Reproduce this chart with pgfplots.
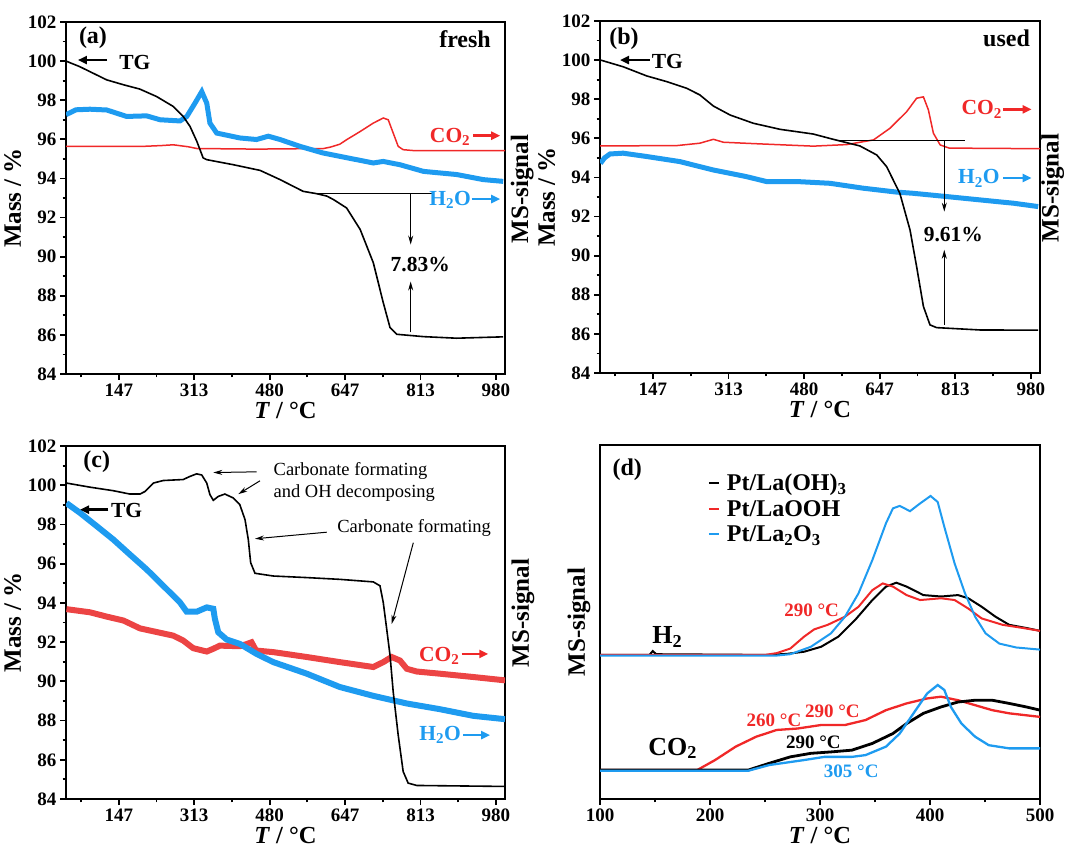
\documentclass[border=0pt]{standalone}
\usepackage{pgfplots}
\pgfplotsset{compat=1.18}
\usepackage{fontspec}
\setmainfont{Liberation Serif}
\usetikzlibrary{arrows.meta}
\definecolor{myblue}{RGB}{30,155,240}
\definecolor{myred}{RGB}{240,40,40}
\definecolor{myred2}{RGB}{236,68,68}

\pgfplotsset{
  base/.style={
    scale only axis, anchor=south west,
    tick pos=left, tick align=outside,
    major tick length=6pt, minor tick length=3.5pt,
    every tick/.style={black, line width=1.8pt},
    axis line style={line width=2.2pt},
    tick label style={font=\bfseries\fontsize{19}{19}\selectfont},
    /pgf/number format/assume math mode=true,
    label style={font=\bfseries\fontsize{25}{25}\selectfont},
    xlabel={\textit{T} / °C},
    xlabel style={yshift=1.5pt, font=\bfseries\fontsize{24.5}{24.5}\selectfont},
    clip mode=individual,
  },
  tg/.style={
    base,
    xmin=30, xmax=1000, ymin=84, ymax=102,
    xtick={146.67,313.33,480,646.67,813.33,980},
    xticklabels={147,313,480,647,813,980},
    minor xtick={63.33,230,396.67,563.33,730,896.67},
    ytick={84,86,88,90,92,94,96,98,100,102},
    minor ytick={85,87,89,91,93,95,97,99,101},
    ylabel={Mass / \%},
  },
}
\tikzset{
  big/.style={font=\bfseries\fontsize{24}{24}\selectfont},
  mid/.style={font=\bfseries\fontsize{21.5}{21.5}\selectfont},
  sml/.style={font=\bfseries\fontsize{19}{19}\selectfont},
  fat/.style={line width=2.6pt, -{Triangle[length=9pt,width=8pt]}},
  thin/.style={line width=1pt, -{Stealth[length=9pt,width=5pt]}},
}

\begin{document}
\begin{tikzpicture}
\useasboundingbox (0,0) rectangle (1065pt,848pt);

% ---------------- (a) ----------------
\begin{axis}[tg, at={(66pt,474pt)}, width=439pt, height=352pt]
\addplot[myred, line width=1.5pt] coordinates {
(30,95.64) (200,95.64) (240,95.68) (267,95.72) (300,95.62) (319,95.53) (450,95.5) (599,95.53)
(614,95.6) (635,95.75) (650,95.98) (680,96.4) (709,96.83) (731,97.09) (742,97.0) (753,96.32)
(764,95.64) (775,95.47) (800,95.42) (1000,95.42)};
\addplot[myblue, line width=5pt] coordinates {
(30,97.26) (52,97.51) (83,97.54) (120,97.5) (164,97.17) (208,97.2) (238,97.0) (282,96.94)
(297,97.17) (315,97.85) (330,98.44) (341,97.85) (348,96.83) (363,96.32) (414,96.07) (451,95.99)
(477,96.16) (503,95.99) (547,95.64) (598,95.3) (672,94.96) (709,94.79) (731,94.87) (768,94.7)
(820,94.36) (893,94.2) (952,93.94) (996,93.85)};
\addplot[black, line width=1.6pt] coordinates {
(30,100.0) (60,99.72) (120,99.04) (157,98.79) (193,98.57) (230,98.19) (267,97.68) (289,97.17)
(304,96.66) (319,95.9) (333,95.05) (341,94.96) (400,94.70) (459,94.41) (503,93.94) (554,93.34)
(584,93.22) (606,93.1) (621,92.92) (650,92.49) (680,91.39) (709,89.69) (731,87.65) (746,86.37)
(761,86.03) (820,85.91) (893,85.83) (996,85.9)};
\draw[line width=1pt] (axis cs:584.6,93.22) -- (axis cs:838.7,93.22);
\draw[thin] (axis cs:791.6,93.22) -- (axis cs:791.6,90.62);
\draw[thin] (axis cs:791.6,86.13) -- (axis cs:791.6,88.73);
\node[mid] at (axis cs:812.8,89.6) {7.83\%};
\node[big] at (rel axis cs:0.0615,0.955) {(a)};
\node[big] at (rel axis cs:0.909,0.952) {fresh};
\draw[fat] (rel axis cs:0.0934,0.892) -- (rel axis cs:0.0273,0.892);
\node[mid] at (rel axis cs:0.157,0.886) {TG};
\node[mid, myred] at (rel axis cs:0.875,0.673) {CO\textsubscript{2}};
\draw[fat, myred] (rel axis cs:0.927,0.677) -- (rel axis cs:0.989,0.677);
\node[mid, myblue] at (rel axis cs:0.875,0.494) {H\textsubscript{2}O};
\draw[fat, myblue] (rel axis cs:0.924,0.497) -- (rel axis cs:0.989,0.497);
\node[rotate=90, font=\bfseries\fontsize{25}{25}\selectfont] at (rel axis cs:1.039,0.526) {MS-signal};
\end{axis}

% ---------------- (b) ----------------
\begin{axis}[tg, at={(600pt,475pt)}, width=440pt, height=352pt]
\addplot[myred, line width=1.5pt] coordinates {
(30,95.61) (200,95.63) (250,95.75) (280,95.95) (302,95.8) (368,95.73) (500,95.6) (574,95.68)
(633,95.92) (669,96.51) (706,97.36) (728,98.05) (743,98.12) (754,97.45) (765,96.26) (780,95.66)
(800,95.5) (1000,95.47)};
\addplot[myblue, line width=5pt] coordinates {
(31,94.72) (40,95.0) (52,95.2) (81,95.24) (133,95.07) (206,94.81) (280,94.38) (353,94.04)
(397,93.79) (464,93.79) (537,93.7) (610,93.45) (684,93.25) (720,93.19) (795,93.02) (868,92.85)
(942,92.68) (996,92.51)};
\addplot[black, line width=1.6pt] coordinates {
(31.5,100.0) (81,99.66) (133,99.19) (177,98.9) (221,98.56) (250,98.22) (280,97.65) (317,97.19)
(368,96.77) (427,96.46) (500,96.22) (544,95.95) (603,95.61) (640,95.15) (662,94.55) (680,93.7)
(691,93.19) (713.5,91.31) (728,89.44) (743,87.4) (757.5,86.46) (772,86.32) (868,86.2) (996,86.19)};
\draw[line width=1pt] (axis cs:559,95.91) -- (axis cs:834.7,95.91);
\draw[thin] (axis cs:789,95.85) -- (axis cs:789,92.25);
\draw[thin] (axis cs:789,86.46) -- (axis cs:789,90.3);
\node[mid] at (axis cs:809,91.06) {9.61\%};
\node[big] at (rel axis cs:0.0545,0.951) {(b)};
\node[big] at (rel axis cs:0.924,0.952) {used};
\draw[fat] (rel axis cs:0.1136,0.889) -- (rel axis cs:0.0455,0.889);
\node[mid] at (rel axis cs:0.153,0.884) {TG};
\node[mid, myred] at (rel axis cs:0.8675,0.749) {CO\textsubscript{2}};
\draw[fat, myred] (rel axis cs:0.917,0.749) -- (rel axis cs:0.981,0.749);
\node[mid, myblue] at (rel axis cs:0.861,0.553) {H\textsubscript{2}O};
\draw[fat, myblue] (rel axis cs:0.917,0.554) -- (rel axis cs:0.981,0.554);
\node[rotate=90, font=\bfseries\fontsize{25}{25}\selectfont] at (rel axis cs:1.029,0.526) {MS-signal};
\end{axis}

% ---------------- (c) ----------------
\begin{axis}[tg, at={(66pt,49pt)}, width=439pt, height=353pt]
\addplot[myred2, line width=6pt] coordinates {
(31,93.68) (83,93.52) (120,93.3) (157,93.1) (193.5,92.7) (267,92.33) (289,92.08) (311,91.69)
(341,91.52) (355.5,91.66) (370,91.82) (414,91.79) (429,91.9) (440,91.99) (450,91.57) (488,91.49)
(562,91.24) (635,90.98) (709,90.73) (731,90.98) (749.6,91.24) (768,91.06) (783,90.64) (805,90.5)
(856,90.39) (930,90.22) (1000,90.05)};
\addplot[myblue, line width=6pt] coordinates {
(31,99.09) (61,98.59) (98,97.91) (134.6,97.23) (171,96.47) (208,95.71) (245,94.87) (282,94.02)
(296.6,93.55) (318.7,93.55) (341,93.77) (355.5,93.7) (359,93.18) (366.5,92.5) (385,92.13)
(414,91.91) (451,91.4) (488,90.98) (562,90.39) (635,89.71) (709,89.26) (783,88.87) (856,88.58)
(930,88.24) (1000,88.07)};
\addplot[black, line width=1.6pt] coordinates {
(31,100.11) (83,99.9) (134.6,99.72) (171,99.55) (193.5,99.55) (204.5,99.68) (223,100.11)
(245,100.24) (289,100.29) (304,100.45) (318.7,100.58) (330,100.52) (341,100.11) (348,99.52)
(355.5,99.23) (366.5,99.43) (381,99.55) (399.6,99.35) (414,99.01) (425.5,98.25) (432.8,97.23)
(438,96.05) (447.6,95.51) (488,95.37) (562,95.29) (635,95.2) (709,95.07) (723.8,94.87)
(731,94.02) (738.6,92.67) (746,91.32) (753,89.46) (764,87.26) (775,85.4) (786,84.81)
(805,84.69) (1000,84.64)};
\node[big] at (rel axis cs:0.07,0.956) {(c)};
\draw[fat] (rel axis cs:0.0964,0.8197) -- (rel axis cs:0.0319,0.8197);
\node[mid] at (rel axis cs:0.138,0.817) {TG};
\node[anchor=west, font=\fontsize{18.5}{18.5}\selectfont] at (rel axis cs:0.465,0.928) {Carbonate formating};
\node[anchor=west, font=\fontsize{18.5}{18.5}\selectfont] at (rel axis cs:0.465,0.867) {and OH decomposing};
\node[anchor=west, font=\fontsize{18.5}{18.5}\selectfont] at (rel axis cs:0.610,0.768) {Carbonate formating};
\draw[thin] (rel axis cs:0.4344,0.9268) -- (rel axis cs:0.3355,0.9248);
\draw[thin] (rel axis cs:0.4419,0.9014) -- (rel axis cs:0.3925,0.8637);
\draw[thin] (rel axis cs:0.594,0.7558) -- (rel axis cs:0.4305,0.7372);
\draw[thin] (rel axis cs:0.7911,0.7259) -- (rel axis cs:0.7419,0.4958);
\node[mid, myred] at (rel axis cs:0.85,0.4065) {CO\textsubscript{2}};
\draw[fat, myred] (rel axis cs:0.9013,0.411) -- (rel axis cs:0.962,0.411);
\node[mid, myblue] at (rel axis cs:0.852,0.181) {H\textsubscript{2}O};
\draw[fat, myblue] (rel axis cs:0.905,0.181) -- (rel axis cs:0.966,0.181);
\node[rotate=90, font=\bfseries\fontsize{25}{25}\selectfont] at (rel axis cs:1.041,0.527) {MS-signal};
\end{axis}

% ---------------- (d) ----------------
\begin{axis}[base, at={(600pt,49pt)}, width=440pt, height=354pt,
  xmin=100, xmax=500, ymin=0, ymax=100,
  xtick={100,200,300,400,500}, minor xtick={150,250,350,450},
  ytick=\empty, ylabel={MS-signal},
  legend cell align=left,
  legend image code/.code={\draw[#1, line width=2pt] (0pt,0pt) -- (10pt,0pt);},
  legend style={at={(rel axis cs:0.238,0.93)}, anchor=north west, draw=none, fill=none,
    font=\bfseries\fontsize{24}{24}\selectfont, row sep=4pt, column sep=5pt},
]
\addplot[black, line width=2pt] coordinates {
(100,40.7) (145,40.7) (148,41.8) (151,40.9) (254,40.7) (270,41.0) (285.5,41.6) (301,43.0)
(316.6,45.85) (332,50.6) (347.6,56.2) (360,60.0) (369.4,61.1) (378.7,60.0) (394,57.6) (410,57.2)
(425.5,57.6) (434.8,56.7) (447,54.3) (459.5,51.5) (472,49.2) (487.6,48.3) (500,47.5)};
\addlegendentry{Pt/La(OH)\textsubscript{3}}
\addplot[myred, line width=2pt] coordinates {
(100,40.7) (250,40.7) (260.5,41.2) (273,42.5) (285.5,45.85) (294.6,47.9) (307,49.2) (322.7,51.5)
(335,54.3) (347.6,59.0) (357,60.9) (366.3,60.0) (378.7,57.6) (391,56.2) (410,56.7) (422.4,56.2)
(434.8,53.8) (447,51.0) (466,49.2) (484.6,48.3) (500,47.5)};
\addlegendentry{Pt/LaOOH}
\addplot[myblue, line width=2pt] coordinates {
(100,40.5) (260,40.5) (273,40.9) (291.7,43.0) (310,46.8) (322.7,51.5) (335,58.1) (347.6,67.5)
(360,77.9) (366.3,82.1) (372.5,82.8) (381.8,81.3) (391,83.5) (400.5,85.6) (407,83.9) (413,76.9)
(422.4,66.5) (431.8,58.1) (441,51.5) (450.5,46.8) (463,43.9) (478.4,42.8) (500,42.2)};
\addlegendentry{Pt/La\textsubscript{2}O\textsubscript{3}}
\addplot[myred, line width=2.3pt, forget plot] coordinates {
(100,8.2) (188.5,8.2) (204.6,11.0) (223.4,14.8) (242,17.6) (260.6,19.5) (279.4,19.9) (301,20.9)
(322.7,20.9) (341.4,22.3) (360,25.1) (378.7,27.0) (397.4,28.4) (410,28.9) (425.5,27.9) (441,26.5)
(456.5,25.1) (472,24.2) (500,23.2)};
\addplot[black, line width=2.8pt, forget plot] coordinates {
(100,8.2) (235,8.2) (254,10.1) (273,11.9) (291.7,12.9) (310,13.3) (329,13.8) (347.6,15.7)
(366.3,18.5) (378.7,21.3) (394,24.2) (410,26.0) (425.5,27.4) (441,27.9) (456.5,27.9) (472,27.0)
(487.6,26.0) (500,25.1)};
\addplot[myblue, line width=2.3pt, forget plot] coordinates {
(100,8.0) (235,8.0) (254,9.6) (285.5,11.0) (304,11.9) (329,11.9) (341.4,12.4) (360,14.8)
(372.5,18.5) (385,24.2) (397.4,29.8) (407,32.2) (413,30.8) (419,26.0) (428.6,21.3) (441,17.6)
(453.4,15.2) (472,14.3) (500,14.3)};
\node[big] at (rel axis cs:0.062,0.929) {(d)};
\node[font=\bfseries\fontsize{26}{26}\selectfont] at (rel axis cs:0.153,0.4585) {H\textsubscript{2}};
\node[font=\bfseries\fontsize{26}{26}\selectfont] at (rel axis cs:0.165,0.143) {CO\textsubscript{2}};
\node[sml, myred] at (rel axis cs:0.481,0.532) {290 °C};
\node[sml, myred] at (rel axis cs:0.3955,0.223) {260 °C};
\node[sml, myred] at (rel axis cs:0.528,0.2466) {290 °C};
\node[sml, black] at (rel axis cs:0.485,0.159) {290 °C};
\node[sml, myblue] at (rel axis cs:0.571,0.077) {305 °C};
\end{axis}
\end{tikzpicture}
\end{document}
